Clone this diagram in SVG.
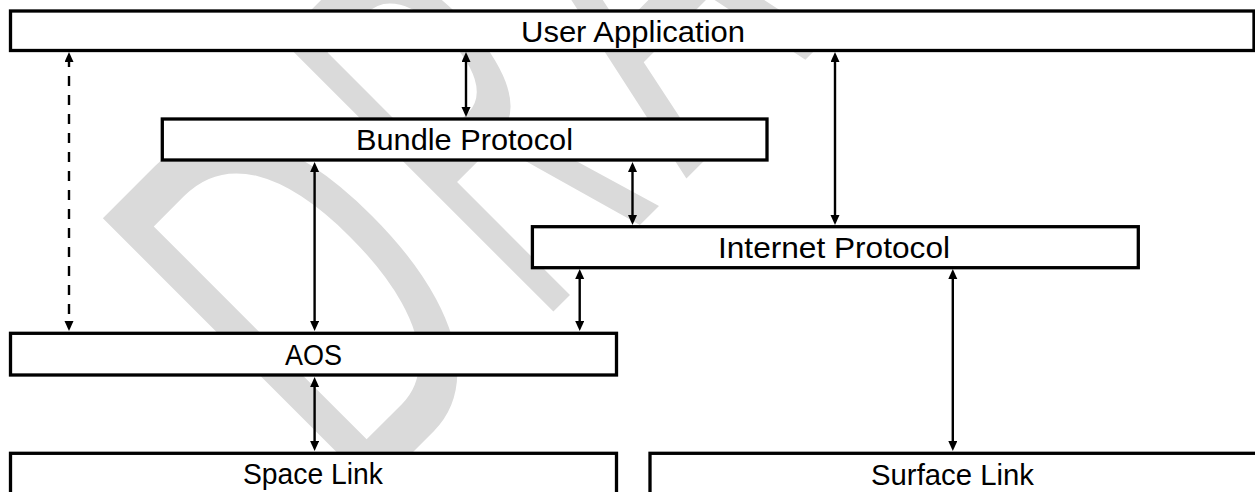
<svg xmlns="http://www.w3.org/2000/svg" width="1255" height="492" viewBox="0 0 1255 492">
  <style>
    .box { fill: #ffffff; stroke: #000000; stroke-width: 3.3; }
    .lbl { font-family: "Liberation Sans", Arial, sans-serif; font-size: 29px; fill: #000000; text-anchor: middle; }
    .conn { stroke: #000000; stroke-width: 2.4; fill: none; marker-start: url(#arrow); marker-end: url(#arrow); }
    .dash { stroke-dasharray: 10 9; }
    .wm { font-family: "Liberation Sans", Arial, sans-serif; font-size: 559px; fill: #dadada; }
  </style>
  <defs>
    <marker id="arrow" markerUnits="userSpaceOnUse" markerWidth="12" markerHeight="10" refX="5" refY="4.5" orient="auto-start-reverse">
      <path d="M0,0 L10,4.5 L0,9 Z" fill="#000000"/>
    </marker>
  </defs>
  <rect width="1255" height="492" fill="#ffffff"/>
  <g id="watermark">
    <text class="wm" transform="translate(356,509) rotate(-45) scale(0.58,1)">D</text>
    <text class="wm" transform="translate(538.8,326.2) rotate(-45) scale(0.45,1)">R</text>
    <text class="wm" transform="translate(686,179) rotate(-45) scale(0.53,1)">A</text>
  </g>

  <g id="connectors">
    <line class="conn dash" x1="69" y1="57" x2="69" y2="326"/>
    <line class="conn" x1="466" y1="57" x2="466" y2="112"/>
    <line class="conn" x1="835" y1="57" x2="835" y2="220"/>
    <line class="conn" x1="314.6" y1="167" x2="314.6" y2="326"/>
    <line class="conn" x1="632.5" y1="167" x2="632.5" y2="220"/>
    <line class="conn" x1="579.7" y1="274" x2="579.7" y2="326"/>
    <line class="conn" x1="314.6" y1="382" x2="314.6" y2="446"/>
    <line class="conn" x1="952.8" y1="274" x2="952.8" y2="446"/>
  </g>

  <g id="user-application">
    <rect class="box" x="10.5" y="11" width="1243.5" height="39.5"/>
    <text class="lbl" x="633" y="42" textLength="224" lengthAdjust="spacingAndGlyphs">User Application</text>
  </g>
  <g id="bundle-protocol">
    <rect class="box" x="162.3" y="119" width="604.7" height="41"/>
    <text class="lbl" x="464.5" y="150" textLength="217" lengthAdjust="spacingAndGlyphs">Bundle Protocol</text>
  </g>
  <g id="internet-protocol">
    <rect class="box" x="532.4" y="226.7" width="605.9" height="41"/>
    <text class="lbl" x="834" y="258" textLength="232" lengthAdjust="spacingAndGlyphs">Internet Protocol</text>
  </g>
  <g id="aos">
    <rect class="box" x="10.5" y="333.3" width="606" height="41.7"/>
    <text class="lbl" x="313.5" y="365" textLength="57" lengthAdjust="spacingAndGlyphs">AOS</text>
  </g>
  <g id="space-link">
    <rect class="box" x="10.5" y="453.3" width="606" height="50"/>
    <text class="lbl" x="313" y="484" textLength="140" lengthAdjust="spacingAndGlyphs">Space Link</text>
  </g>
  <g id="surface-link">
    <rect class="box" x="650" y="453.3" width="620" height="50"/>
    <text class="lbl" x="952.5" y="485" textLength="163" lengthAdjust="spacingAndGlyphs">Surface Link</text>
  </g>
</svg>
